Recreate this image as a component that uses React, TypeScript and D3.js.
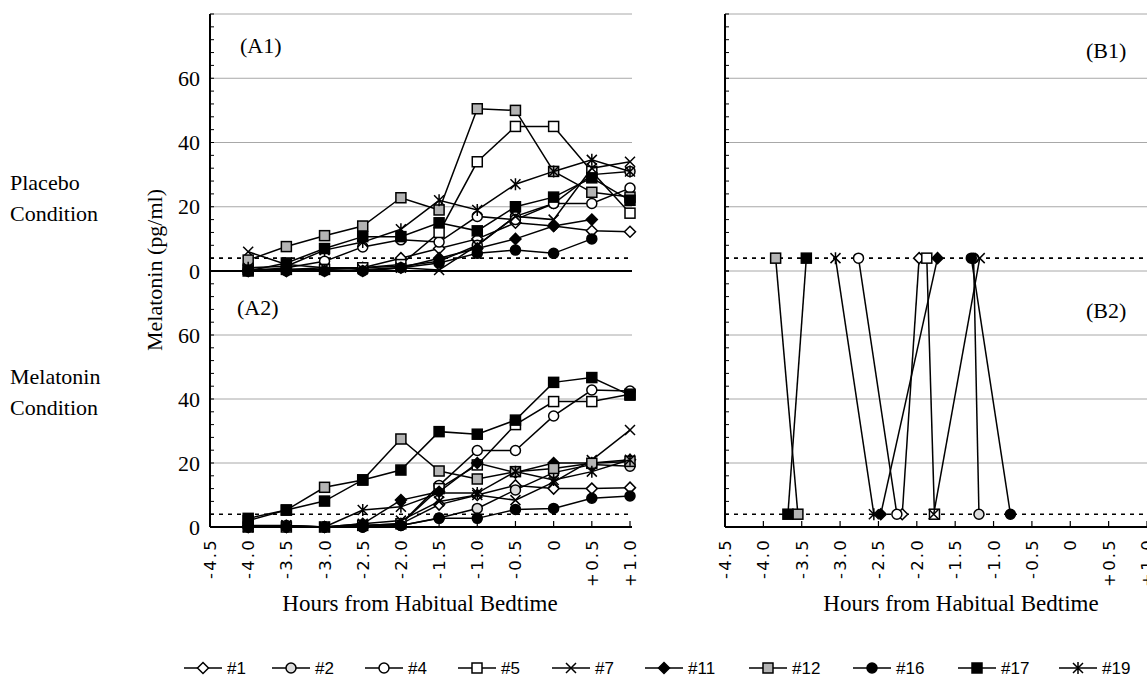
import React from "react";
import * as d3 from "d3";

// sampling times (hours from habitual bedtime)
const hours = [-4.0, -3.5, -3.0, -2.5, -2.0, -1.5, -1.0, -0.5, 0, 0.5, 1.0];
const tickHours = [-4.5, -4.0, -3.5, -3.0, -2.5, -2.0, -1.5, -1.0, -0.5, 0, 0.5, 1.0];
const tickLabels = ["-4.5", "-4.0", "-3.5", "-3.0", "-2.5", "-2.0", "-1.5", "-1.0", "-0.5", "0", "+0.5", "+1.0"];
const yTickValues = [0, 20, 40, 60];

const subjects = ["#1", "#2", "#4", "#5", "#7", "#11", "#12", "#16", "#17", "#19"];
const markerTypes = [
  "diamondOpen", "circleGray", "circleOpen", "squareOpen", "cross",
  "diamondFilled", "squareGray", "circleFilled", "squareFilled", "asterisk",
];

// melatonin (pg/ml), placebo condition, one row per subject
const placebo: (number | null)[][] = [
  [0, 0, 0.5, 1, 4, 7, 10, 15, 14, 12.5, 12.2],
  [0.5, 0.5, 1, 1, 1.5, 3, 8, 17, 21, 30, 31],
  [0, 1, 3, 7.5, 9.7, 9, 17, 16, 21, 21, 25.8],
  [0.5, 0.5, 0.5, 1, 2, 12, 34, 45, 45, 31, 18],
  [6, 2, 1, 0.5, 1, 0.3, 8, 17, 16, 32, 34],
  [0, 0, 0, 0, 1, 4, 7, 10, 14, 16, null],
  [3.4, 7.6, 11, 14, 22.8, 19, 50.5, 50, 31, 24.5, 23],
  [0, 0, 0, 0, 1, 2.5, 5.5, 6.5, 5.5, 10, null],
  [0, 2.5, 7, 10.7, 10.7, 15, 12.5, 20, 23, 29, 22],
  [1, 1.5, 6.5, 9, 13, 22, 19, 27, 31, 34.6, 31],
];

// melatonin (pg/ml), melatonin condition
const melatonin: (number | null)[][] = [
  [0, 0, 0, 0.5, 1, 7, 10, 13, 12, 12, 12.3],
  [0, 0, 0, 0, 0.5, 2.8, 5.8, 11.6, 17, 19.5, 19],
  [0.5, 0.5, 0, 0, 1, 13, 23.9, 23.9, 34.7, 42.8, 42.5],
  [0, 0, 0, 0.5, 1, 12, 19.4, 32, 39.2, 39.2, 41.5],
  [0, 0.5, 0, 1, 2, 8, 10, 8.4, 14, 20.9, 30.3],
  [0, 0, 0, 1, 8.4, 11, 20, 17, 20, 20, 21],
  [2, 5.3, 12.4, 14.7, 27.5, 17.5, 15, 17.3, 18.3, 19.9, 20.5],
  [0, 0, 0, 0, 0.5, 2.7, 2.7, 5.5, 5.8, 9, 9.7],
  [2.7, 5.3, 8.1, 14.7, 17.8, 29.8, 29, 33.4, 45.2, 46.7, 41.2],
  [0, 0.5, 0, 5.3, 6.3, 10.6, 10.6, 17.3, 14.7, 17.3, 21],
];

// onset times (h) where the threshold is crossed
const onsetPlacebo = [-1.97, -1.26, -2.76, -1.87, -1.18, -1.73, -3.84, -1.29, -3.44, -3.06];
const onsetMelatonin = [-2.19, -1.19, -2.26, -1.77, -1.78, -2.47, -3.55, -0.78, -3.68, -2.56];
const threshold = 4;

const SERIF = "'Liberation Serif', 'Times New Roman', serif";
const SANS = "'DejaVu Sans', 'Liberation Sans', sans-serif";
const NARROW = "'Liberation Sans Narrow', 'Liberation Sans', sans-serif";

function Marker({ type, x, y }: { type: string; x: number; y: number }) {
  const s = 5;
  const sw = 1.5;
  switch (type) {
    case "squareOpen":
    case "squareGray":
    case "squareFilled": {
      const fill = type === "squareOpen" ? "white" : type === "squareGray" ? "#b4b4b4" : "black";
      return <rect x={x - s} y={y - s} width={2 * s} height={2 * s} fill={fill} stroke="black" strokeWidth={sw} />;
    }
    case "circleOpen":
    case "circleGray":
    case "circleFilled": {
      const fill = type === "circleOpen" ? "white" : type === "circleGray" ? "#dcdcdc" : "black";
      return <circle cx={x} cy={y} r={s} fill={fill} stroke="black" strokeWidth={sw} />;
    }
    case "diamondOpen":
    case "diamondFilled": {
      const d = 5.5;
      const pts = `${x},${y - d} ${x + d},${y} ${x},${y + d} ${x - d},${y}`;
      return <polygon points={pts} fill={type === "diamondOpen" ? "white" : "black"} stroke="black" strokeWidth={sw} />;
    }
    case "cross":
      return <path d={`M${x - s},${y - s}L${x + s},${y + s}M${x + s},${y - s}L${x - s},${y + s}`} stroke="black" strokeWidth={sw} />;
    case "asterisk":
      return (
        <path
          d={`M${x - s},${y - s}L${x + s},${y + s}M${x + s},${y - s}L${x - s},${y + s}M${x},${y - s - 1}L${x},${y + s + 1}`}
          stroke="black"
          strokeWidth={sw}
        />
      );
    default:
      return null;
  }
}

export default function App() {
  const xL = d3.scaleLinear().domain([-4.5, 1]).range([210, 630]);
  const xR = d3.scaleLinear().domain([-4.5, 1]).range([725, 1147]);
  const yA1 = d3.scaleLinear().domain([0, 80]).range([271, 14]);
  const yA2 = d3.scaleLinear().domain([0, 80]).range([527, 271]);
  const minorTicks = d3.range(0, 81, 4);
  const gridValues = [20, 40, 60, 80];

  const frame = (x: d3.ScaleLinear<number, number>, right: number, key: string) => (
    <g key={key}>
      {/* grid lines */}
      {[yA1, yA2].map((y, i) =>
        gridValues.map((v) => (
          <line key={`${i}-${v}`} x1={x(-4.5)} x2={right} y1={y(v)} y2={y(v)} stroke="#a8a8a8" strokeWidth={1} />
        ))
      )}
      {/* threshold lines */}
      {[yA1, yA2].map((y, i) => (
        <line key={`th${i}`} x1={x(-4.5)} x2={right} y1={y(threshold)} y2={y(threshold)} stroke="black" strokeWidth={1.6} strokeDasharray="4,5" />
      ))}
      {/* y axis */}
      <line x1={x(-4.5)} x2={x(-4.5)} y1={yA1(80)} y2={yA2(0)} stroke="black" strokeWidth={2} />
      {[yA1, yA2].map((y, i) =>
        minorTicks.map((v) => (
          <line key={`t${i}-${v}`} x1={x(-4.5)} x2={x(-4.5) + 4} y1={y(v)} y2={y(v)} stroke="black" strokeWidth={1} />
        ))
      )}
      {/* x axis */}
      <line x1={x(-4.5)} x2={right} y1={yA2(0)} y2={yA2(0)} stroke="black" strokeWidth={2} />
      {tickHours.map((h, i) => (
        <g key={`xt${i}`}>
          <line x1={x(h)} x2={x(h)} y1={yA2(0)} y2={yA2(0) - 6} stroke="black" strokeWidth={1.2} />
          <text
            transform={`translate(${x(h) + 6},${yA2(0) + 11}) rotate(-90)`}
            textAnchor="end"
            fontFamily={SANS}
            fontSize={16.5}
            letterSpacing={2.2}
          >
            {tickLabels[i]}
          </text>
        </g>
      ))}
    </g>
  );

  const lineA1 = (row: (number | null)[]) =>
    d3.line<number>().defined((_, i) => row[i] != null).x((h) => xL(h)).y((_, i) => yA1(row[i] as number))(hours) || "";
  const lineA2 = (row: (number | null)[]) =>
    d3.line<number>().defined((_, i) => row[i] != null).x((h) => xL(h)).y((_, i) => yA2(row[i] as number))(hours) || "";

  const legendX = [203, 291, 384, 477, 571, 664, 768, 872, 977, 1078];
  const legendY = 668;

  return (
    <svg width={1147} height={691} style={{ position: "absolute", left: 0, top: 0, background: "white" }}>
      {frame(xL, 632, "left")}
      {frame(xR, 1147, "right")}
      {/* A1 baseline */}
      <line x1={xL(-4.5)} x2={632} y1={yA1(0)} y2={yA1(0)} stroke="black" strokeWidth={2} />

      {/* y tick labels */}
      {[yA1, yA2].map((y, i) =>
        yTickValues.map((v) => (
          <text key={`yl${i}-${v}`} x={200} y={y(v)} dy="0.35em" textAnchor="end" fontFamily={SERIF} fontSize={22}>
            {v}
          </text>
        ))
      )}
      <text transform="translate(162,270) rotate(-90)" textAnchor="middle" fontFamily={SERIF} fontSize={22}>
        Melatonin (pg/ml)
      </text>
      <text x={10} y={190} fontFamily={SERIF} fontSize={22}>Placebo</text>
      <text x={10} y={221} fontFamily={SERIF} fontSize={22}>Condition</text>
      <text x={10} y={384} fontFamily={SERIF} fontSize={22}>Melatonin</text>
      <text x={10} y={415} fontFamily={SERIF} fontSize={22}>Condition</text>

      <text x={240} y={53} fontFamily={SERIF} fontSize={22}>(A1)</text>
      <text x={237} y={315} fontFamily={SERIF} fontSize={22}>(A2)</text>
      <text x={1086} y={58} fontFamily={SERIF} fontSize={22}>(B1)</text>
      <text x={1086} y={318} fontFamily={SERIF} fontSize={22}>(B2)</text>

      <text x={420} y={611} textAnchor="middle" fontFamily={SERIF} fontSize={23}>Hours from Habitual Bedtime</text>
      <text x={961} y={611} textAnchor="middle" fontFamily={SERIF} fontSize={23}>Hours from Habitual Bedtime</text>

      {/* A1 / A2 series */}
      {subjects.map((s, k) => (
        <g key={`a1${s}`}>
          <path d={lineA1(placebo[k])} fill="none" stroke="black" strokeWidth={1.5} />
          {hours.map((h, i) =>
            placebo[k][i] == null ? null : <Marker key={i} type={markerTypes[k]} x={xL(h)} y={yA1(placebo[k][i] as number)} />
          )}
        </g>
      ))}
      {subjects.map((s, k) => (
        <g key={`a2${s}`}>
          <path d={lineA2(melatonin[k])} fill="none" stroke="black" strokeWidth={1.5} />
          {hours.map((h, i) =>
            melatonin[k][i] == null ? null : <Marker key={i} type={markerTypes[k]} x={xL(h)} y={yA2(melatonin[k][i] as number)} />
          )}
        </g>
      ))}

      {/* B panel: onset shifts */}
      {subjects.map((s, k) => (
        <g key={`b${s}`}>
          <line
            x1={xR(onsetPlacebo[k])}
            y1={yA1(threshold)}
            x2={xR(onsetMelatonin[k])}
            y2={yA2(threshold)}
            stroke="black"
            strokeWidth={1.5}
          />
          <Marker type={markerTypes[k]} x={xR(onsetPlacebo[k])} y={yA1(threshold)} />
          <Marker type={markerTypes[k]} x={xR(onsetMelatonin[k])} y={yA2(threshold)} />
        </g>
      ))}

      {/* legend */}
      {subjects.map((s, k) => (
        <g key={`lg${s}`}>
          <line x1={legendX[k] - 19} x2={legendX[k] + 19} y1={legendY} y2={legendY} stroke="black" strokeWidth={1.5} />
          <Marker type={markerTypes[k]} x={legendX[k]} y={legendY} />
          <text x={legendX[k] + 24} y={legendY} dy="0.35em" fontFamily={NARROW} fontSize={17}>
            {s}
          </text>
        </g>
      ))}
    </svg>
  );
}
